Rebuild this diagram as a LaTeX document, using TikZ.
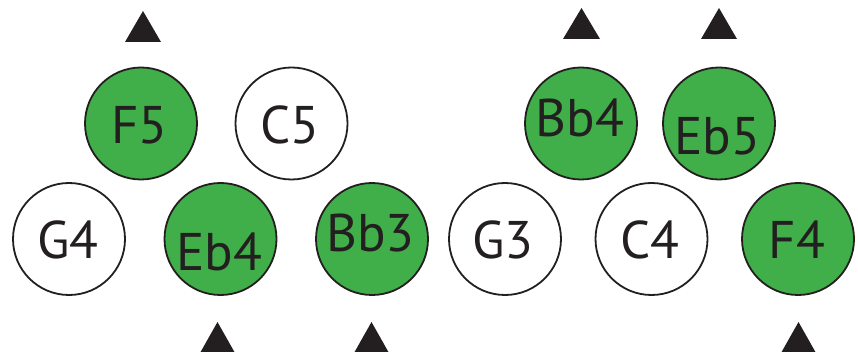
\documentclass[tikz,border=0pt]{standalone}
\usepackage{fontspec}
\setmainfont{PT Sans}
\definecolor{notegreen}{RGB}{64,174,73}
\definecolor{ink}{RGB}{35,31,32}
\begin{document}
\begin{tikzpicture}[x=1pt,y=-1pt,
  note/.style={circle,draw=ink,line width=1.8pt,minimum size=112pt,inner sep=0pt},
  on/.style={note,fill=notegreen},
  off/.style={note,fill=white},
  lab/.style={anchor=base,inner sep=0pt,font=\fontsize{53}{53}\selectfont,text=ink},
  tri/.style={fill=ink}]
\useasboundingbox (0,0) rectangle (858,352);
\clip (0,0) rectangle (858,352);
% top row
\node[on]  (F5)  at (141,123.5) {};
\node[off] (C5)  at (291.5,123.5) {};
\node[on]  (Bb4) at (581,123.5) {};
\node[on]  (Eb5) at (719,123.5) {};
% bottom row
\node[off] (G4)  at (69,239) {};
\node[on]  (Eb4) at (220.5,239) {};
\node[on]  (Bb3) at (372,239) {};
\node[off] (G3)  at (505,239) {};
\node[off] (C4)  at (651.5,239) {};
\node[on]  (F4)  at (798,239) {};
% labels
\node[lab] (tF5)  at (139.5,144) {F5};
\node[lab] (tC5)  at (290,144) {C5};
\node[lab] (tBb4) at (580,137) {Bb4};
\node[lab] (tEb5) at (717,155) {Eb5};
\node[lab] (tG4)  at (68,259) {G4};
\node[lab] (tEb4) at (219.5,270) {Eb4};
\node[lab] (tBb3) at (370.5,252) {Bb3};
\node[lab] (tG3)  at (503,259) {G3};
\node[lab] (tC4)  at (650,259) {C4};
\node[lab] (tF4)  at (797,259) {F4};
% triangles
\fill[tri] (125,42) -- (143,11) -- (161,42) -- cycle;
\fill[tri] (563,39) -- (581.5,8) -- (600,39) -- cycle;
\fill[tri] (701,39) -- (719,8) -- (737,39) -- cycle;
\fill[tri] (200,353) -- (217.5,322) -- (235,353) -- cycle;
\fill[tri] (354,353) -- (371.5,322) -- (389,353) -- cycle;
\fill[tri] (781,353) -- (798.5,322) -- (816,353) -- cycle;
\end{tikzpicture}
\end{document}
